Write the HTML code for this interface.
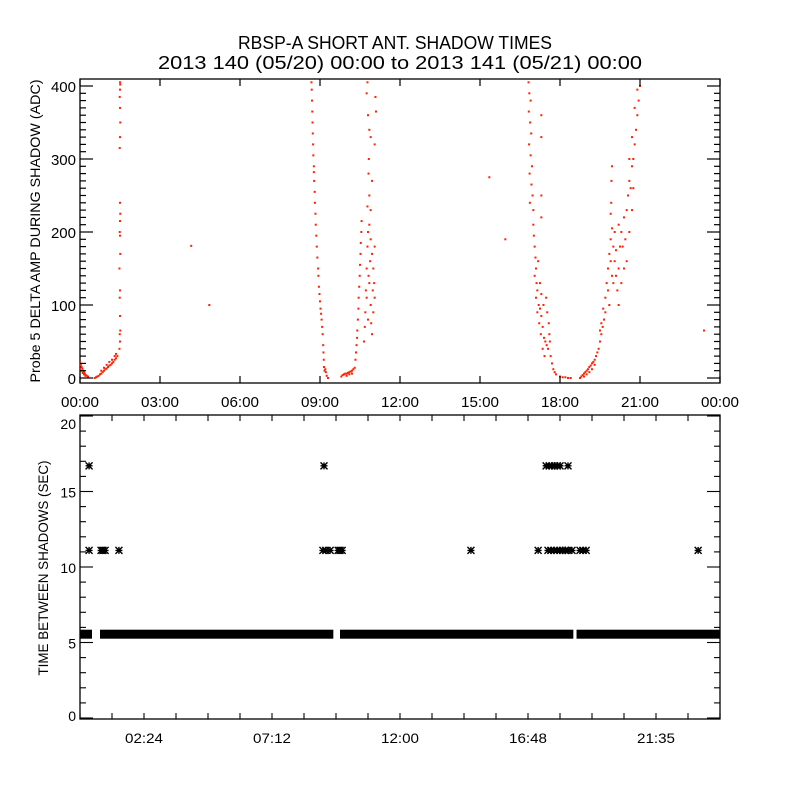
<!DOCTYPE html>
<html><head><meta charset="utf-8"><style>
html,body{margin:0;padding:0;background:#fff;}
svg{display:block;}
text{font-family:"Liberation Sans",sans-serif;fill:#000;}
</style></head><body>
<svg id="chart" width="800" height="800" viewBox="0 0 800 800" xmlns="http://www.w3.org/2000/svg">
<rect width="800" height="800" fill="#fff"/>
<text x="395" y="49" text-anchor="middle" font-size="18" textLength="314" lengthAdjust="spacingAndGlyphs">RBSP-A SHORT ANT. SHADOW TIMES</text>
<text x="400" y="69" text-anchor="middle" font-size="18" textLength="484" lengthAdjust="spacingAndGlyphs">2013 140 (05/20) 00:00 to 2013 141 (05/21) 00:00</text>
<g id="topPanel"></g>
<g id="botPanel"></g>
</svg>
<script>
// ---- top panel data (hours since 00:00, ADC amplitude) ----
const ampHours = [0,0.03,0.06,0.09,0.12,0.15,0.18,0.21,0.25,0.3,0,0.05,0.1,0.15,0.2,
0.55,0.6,0.65,0.7,0.75,0.8,0.85,0.9,0.95,1.0,1.05,1.1,1.15,1.2,1.25,1.3,1.35,1.4,0.8,0.9,1.0,1.1,1.2,1.3,1.35,
1.48,1.5,1.49,1.51,1.5,1.49,1.5,1.48,1.51,1.5,1.49,1.5,1.51,1.5,1.49,1.5,1.51,1.5,1.49,1.5,1.51,1.5,
4.17,4.85,
8.68,8.69,8.70,8.71,8.72,8.73,8.74,8.75,8.77,8.77,8.78,8.80,8.81,8.83,8.84,8.86,8.88,8.90,8.93,8.94,8.96,8.98,9.0,9.02,9.04,9.06,9.08,9.10,9.12,9.13,9.14,9.15,9.17,9.2,9.22,9.25,9.3,
9.8,9.85,9.9,9.95,10.0,10.05,10.1,10.15,10.2,10.25,10.3,10.0,10.1,10.2,
10.33,10.35,10.37,10.39,10.4,10.42,10.44,10.45,10.47,10.49,10.5,10.52,10.53,10.55,10.56,
10.65,10.68,10.7,10.72,10.75,10.78,10.8,10.85,10.9,10.95,11.0,11.03,11.05,10.9,10.8,10.95,11.0,10.85,10.75,11.05,10.98,10.88,10.82,10.92,
10.78,10.75,10.8,10.85,11.08,11.1,10.9,10.83,10.82,10.95,10.85,10.78,11.05,10.9,
16.82,16.85,16.9,16.83,16.88,16.92,16.84,16.9,16.95,16.86,16.93,16.97,16.87,17.0,17.3,17.3,17.3,17.3,
17.0,17.02,17.05,17.08,17.1,17.05,17.12,17.15,17.1,17.2,17.25,17.15,17.3,17.22,17.35,17.28,17.4,17.45,17.5,17.55,17.38,17.48,17.52,17.58,17.6,17.62,17.35,17.42,17.65,17.7,17.75,17.8,17.85,17.25,17.18,17.3,
18.0,18.1,18.2,18.3,18.4,
18.75,18.8,18.85,18.9,18.95,19.0,19.05,19.1,19.15,19.2,19.25,19.3,19.35,19.4,18.9,19.0,19.1,19.2,19.3,
19.45,19.5,19.55,19.6,19.65,19.7,19.55,19.62,19.5,
19.7,19.75,19.8,19.85,19.9,19.95,20.0,20.05,20.1,20.15,20.2,19.8,19.9,20.0,20.1,19.95,20.05,19.85,20.2,20.25,19.9,19.92,19.95,19.93,
20.2,20.3,20.35,20.4,20.45,20.5,20.55,20.6,20.65,20.7,20.75,20.8,20.85,20.9,20.95,21.0,20.6,20.7,20.8,20.9,20.5,20.4,20.3,20.6,20.7,20.75,
15.35,15.95,23.4];
const ampValues = [22,18,15,13,10,8,6,4,3,2,12,10,7,5,3,
0,1,2,3,5,6,8,10,12,13,15,17,18,20,22,25,27,30,10,14,18,22,25,30,33,
40,50,60,65,85,110,120,150,170,195,200,215,225,240,315,330,350,370,385,395,402,405,
181,100,
405,395,380,365,350,335,320,305,290,282,270,255,240,225,210,195,180,165,150,140,125,115,105,95,88,80,70,60,45,35,25,15,10,12,8,3,0,
2,4,5,6,6,7,8,9,10,12,14,3,5,6,
25,35,45,55,65,80,95,110,125,140,155,170,185,200,215,
50,70,90,120,150,180,200,210,190,170,150,130,110,100,80,60,90,130,110,180,120,160,140,75,
405,390,360,340,385,365,330,300,280,270,250,235,320,230,
405,390,380,365,350,335,320,305,290,280,265,250,240,230,360,330,250,220,
210,195,180,165,150,140,130,120,110,100,95,90,85,75,70,60,55,50,45,40,100,110,90,75,60,50,40,30,30,20,12,8,5,130,160,115,
2,1,1,0,0,
0,2,4,6,8,10,12,15,17,20,22,25,30,35,2,5,8,12,18,
40,50,60,70,80,90,75,95,65,
110,130,150,170,190,205,180,160,140,120,100,120,160,130,175,140,200,100,150,180,225,240,290,270,
210,200,180,220,190,230,250,270,260,290,300,320,340,360,380,400,300,330,370,395,160,150,130,200,230,260,
275,190,65];
const topXTicks = ["00:00","03:00","06:00","09:00","12:00","15:00","18:00","21:00","00:00"];
const topYTicks = [0,100,200,300,400];

// ---- bottom panel data ----
const baseSegStart = [0,0.75,9.75,18.62];
const baseSegEnd = [0.45,9.5,18.5,24];
const baseValue = 5.55;
const midHours = [0.34,0.79,0.86,0.94,1.46,9.11,9.22,9.38,9.68,9.75,9.83,14.66,17.18,17.55,17.66,17.78,17.89,18.0,18.1,18.2,18.3,18.45,18.75,18.86,18.98,23.18];
const midValues = [11.1,11.1,11.1,11.1,11.1,11.1,11.1,11.1,11.1,11.1,11.1,11.1,11.1,11.1,11.1,11.1,11.1,11.1,11.1,11.1,11.1,11.1,11.1,11.1,11.1,11.1];
const highHours = [0.34,9.15,17.48,17.6,17.7,17.8,17.9,18.0,18.3];
const highValues = [16.7,16.7,16.7,16.7,16.7,16.7,16.7,16.7,16.7];
const botXTicks = ["02:24","07:12","12:00","16:48","21:35"];
const botXTickHours = [2.4,7.2,12,16.8,21.6];
const botYTicks = [0,5,10,15,20];

const NS="http://www.w3.org/2000/svg";
function mk(parent,tag,attrs){const e=document.createElementNS(NS,tag);for(const k in attrs)e.setAttribute(k,attrs[k]);parent.appendChild(e);return e;}
const X0=80,X1=720;
const xs=h=>X0+h*(X1-X0)/24;
const T0=79,T1=383;
const ys1=v=>378-v*0.73;
const B0=415,B1=719;
const ys2=v=>718-v*15.1;

const topG=document.getElementById('topPanel');
const botG=document.getElementById('botPanel');

function frame(g,y0,y1,name){
  const r=mk(g,'rect',{x:X0,y:y0,width:X1-X0,height:y1-y0,fill:'none',stroke:'#000','stroke-width':1.3});
  
  
}
// top panel
frame(topG,T0,T1,'amplitude-plot-frame');
const dots=mk(topG,'g',{fill:'#ff2200'});


for(let i=0;i<ampHours.length;i++){
  const d=mk(dots,'rect',{x:xs(ampHours[i])-1,y:ys1(ampValues[i])-1,width:2,height:2});
  
  
}
for(let v=0;v<=400;v+=10){
  const y=ys1(v);const L=(v%100===0)?13:6;
  mk(topG,'line',{x1:X0,y1:y,x2:X0+L,y2:y,stroke:'#000','stroke-width':1.2});
  mk(topG,'line',{x1:X1,y1:y,x2:X1-L,y2:y,stroke:'#000','stroke-width':1.2});
}
topYTicks.forEach(v=>{
  const t=mk(topG,'text',{x:76,y:ys1(v)+6,'text-anchor':'end','font-size':15});
  t.textContent=String(v);
  
  
});
topXTicks.forEach((s,i)=>{
  const x=xs(i*3);
  mk(topG,'line',{x1:x,y1:T1,x2:x,y2:T1-7,stroke:'#000','stroke-width':1.2});
  mk(topG,'line',{x1:x,y1:T0,x2:x,y2:T0+7,stroke:'#000','stroke-width':1.2});
  const t=mk(topG,'text',{x:x,y:407,'text-anchor':'middle','font-size':15,textLength:38,lengthAdjust:'spacingAndGlyphs'});
  t.textContent=s;
  
  
});
const yt1=mk(topG,'text',{x:0,y:0,'text-anchor':'middle','font-size':14,transform:'translate(40,231) rotate(-90)',textLength:303,lengthAdjust:'spacingAndGlyphs'});
yt1.textContent='Probe 5 DELTA AMP DURING SHADOW (ADC)';



// bottom panel
frame(botG,B0,B1,'interval-plot-frame');
for(let v=0;v<=20;v+=1){
  const y=ys2(v);const L=(v%5===0)?13:6;
  mk(botG,'line',{x1:X0,y1:y,x2:X0+L,y2:y,stroke:'#000','stroke-width':1.1});
  mk(botG,'line',{x1:X1,y1:y,x2:X1-L,y2:y,stroke:'#000','stroke-width':1.1});
}
botYTicks.forEach(v=>{
  let y=ys2(v)+6; if(v===20)y=ys2(v)+13; if(v===0)y=ys2(v)+3;
  const t=mk(botG,'text',{x:76,y:y,'text-anchor':'end','font-size':14});
  t.textContent=String(v);
  
  
});
for(let h=0;h<=24.01;h+=1.2){
  const x=xs(h);
  mk(botG,'line',{x1:x,y1:B1,x2:x,y2:B1-6,stroke:'#000','stroke-width':1.1});
  mk(botG,'line',{x1:x,y1:B0,x2:x,y2:B0+6,stroke:'#000','stroke-width':1.1});
}
botXTicks.forEach((s,i)=>{
  const t=mk(botG,'text',{x:xs(botXTickHours[i]),y:743,'text-anchor':'middle','font-size':14,textLength:38,lengthAdjust:'spacingAndGlyphs'});
  t.textContent=s;
  
  
});
const yt2=mk(botG,'text',{x:0,y:0,'text-anchor':'middle','font-size':14,transform:'translate(48,568) rotate(-90)',textLength:215,lengthAdjust:'spacingAndGlyphs'});
yt2.textContent='TIME BETWEEN SHADOWS (SEC)';



for(let i=0;i<baseSegStart.length;i++){
  const x0=xs(baseSegStart[i]),x1=xs(baseSegEnd[i]);
  const r=mk(botG,'rect',{x:x0,y:ys2(baseValue)-4.5,width:x1-x0,height:9,fill:'#000'});
  
  
}
function star(hx,v){
  const x=xs(hx),y=ys2(v),s=3.5;
  const p=mk(botG,'path',{d:`M${x-s},${y}H${x+s}M${x},${y-s}V${y+s}M${x-s},${y-s}L${x+s},${y+s}M${x-s},${y+s}L${x+s},${y-s}`,stroke:'#000','stroke-width':1.4,fill:'none'});
  
  
}
for(let i=0;i<midHours.length;i++)star(midHours[i],midValues[i]);
for(let i=0;i<highHours.length;i++)star(highHours[i],highValues[i]);
</script>
</body></html>
